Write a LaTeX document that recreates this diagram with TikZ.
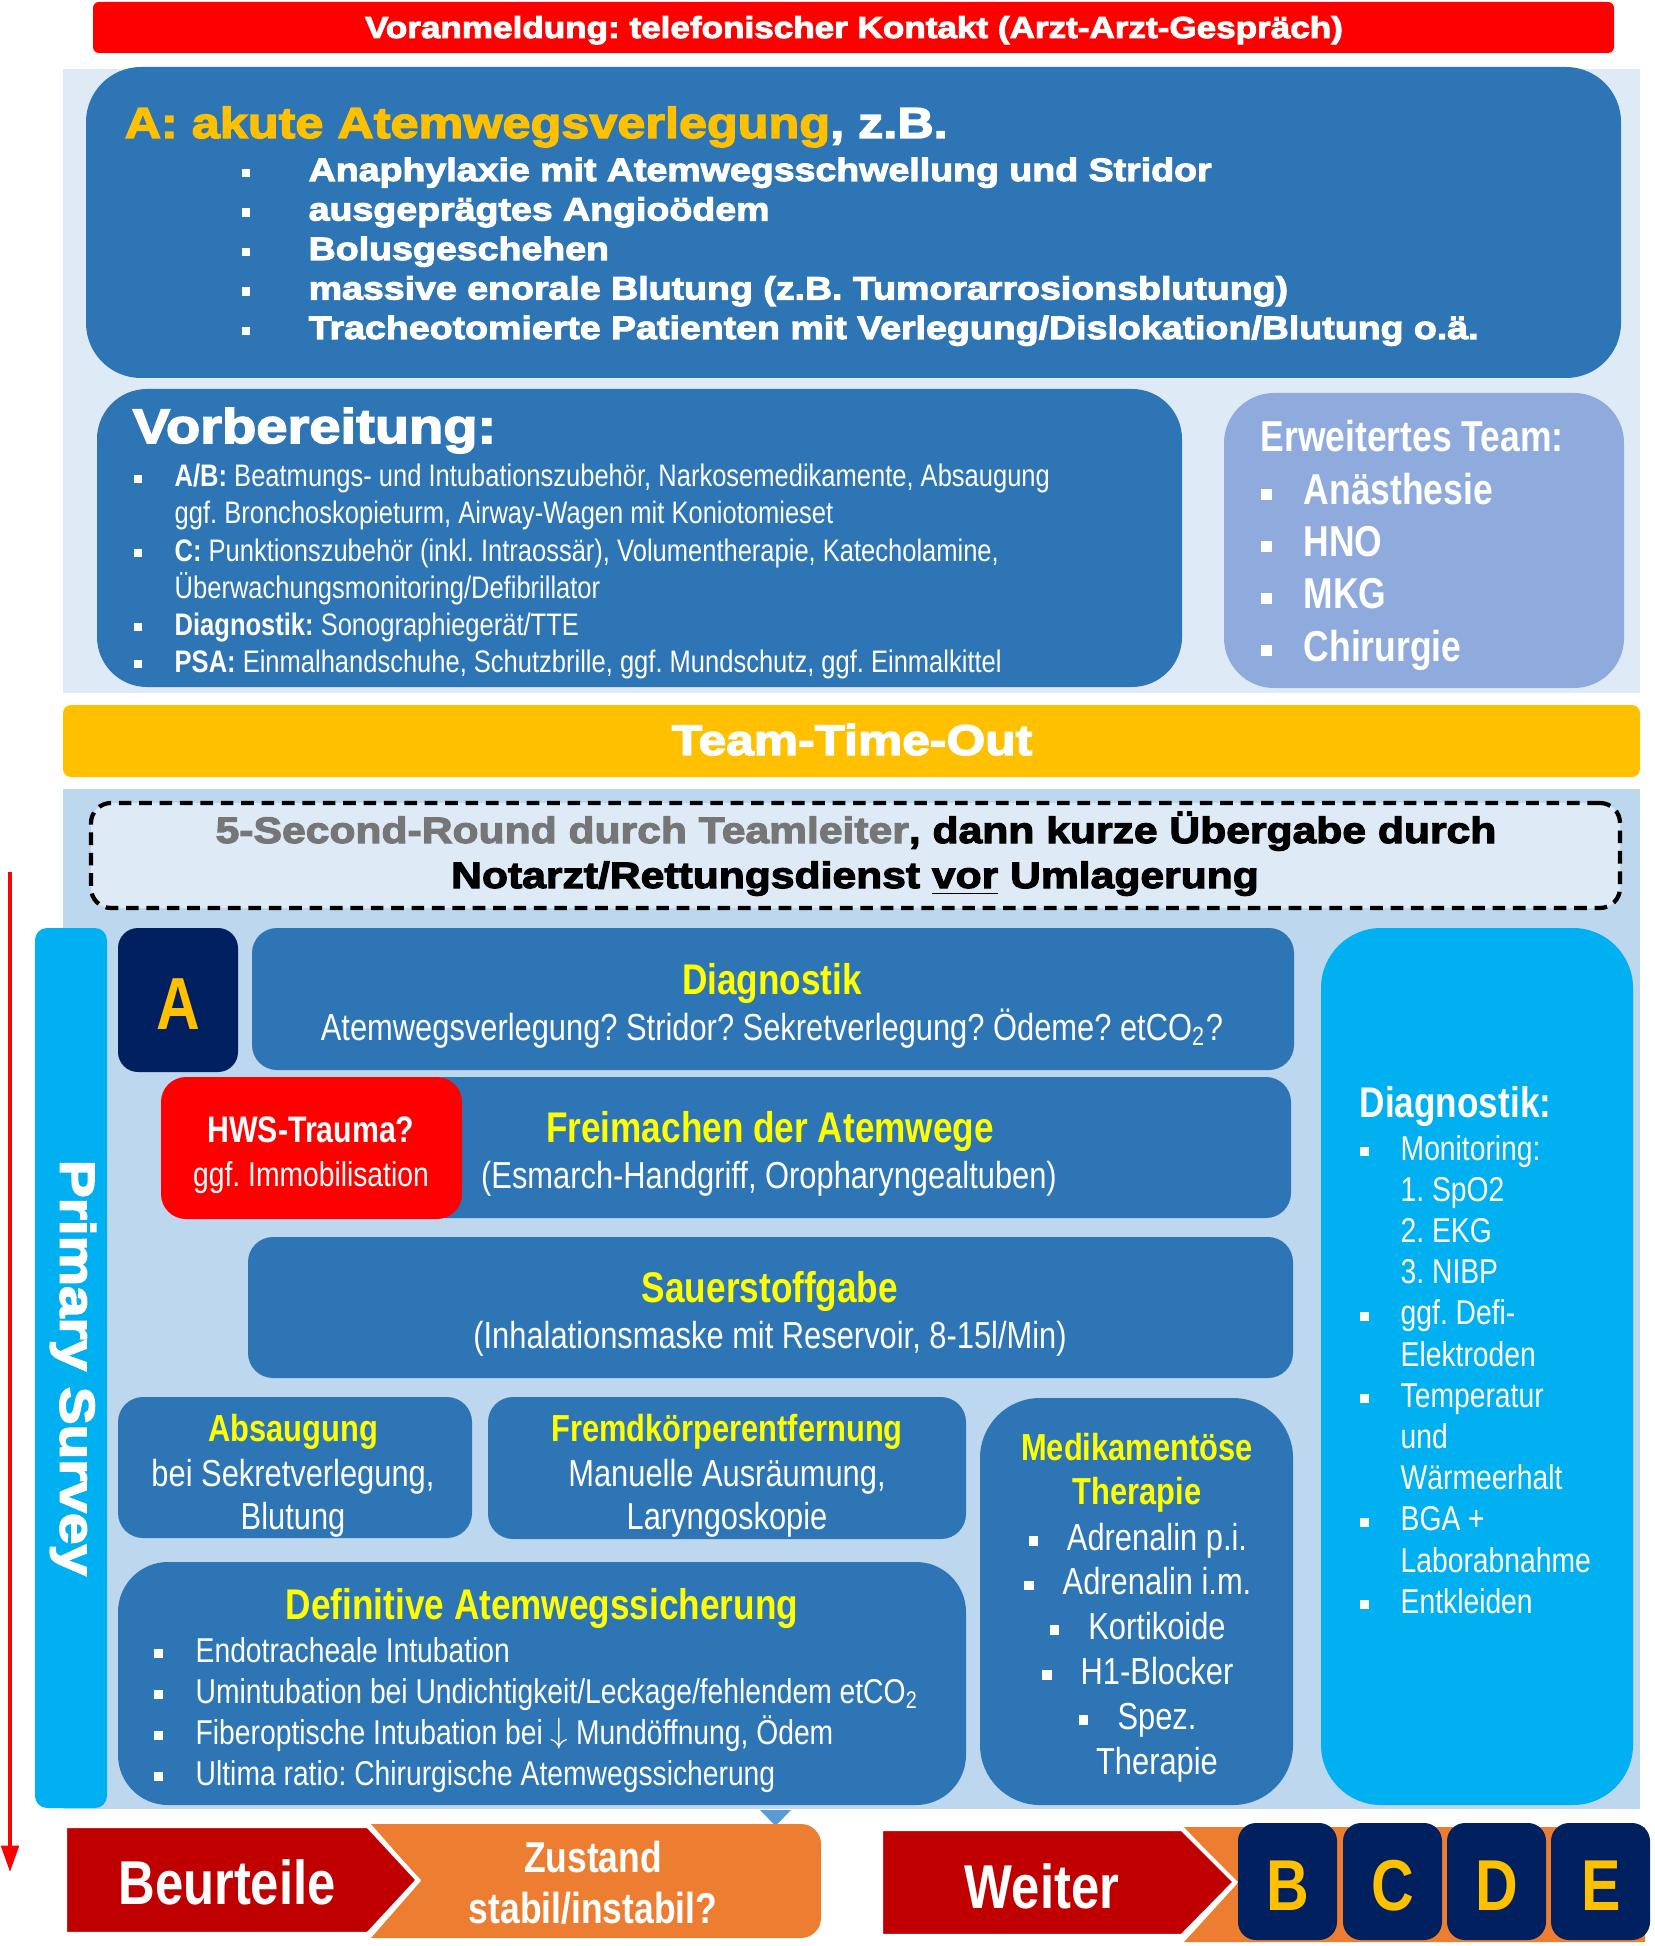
\documentclass[tikz,border=0pt]{standalone}
\usepackage{fontspec}
\setmainfont{Liberation Sans}
\newfontfamily\heavyfont[FakeBold=3.2,FakeStretch=1.16]{Liberation Sans Bold}
\newfontfamily\narrowfont[FakeStretch=0.82]{Liberation Sans}
\usetikzlibrary{arrows.meta,positioning,fit}
\definecolor{alarmred}{RGB}{255,0,0}
\definecolor{paleblue}{RGB}{222,235,247}
\definecolor{lightblue}{RGB}{189,215,238}
\definecolor{boxblue}{RGB}{46,117,182}
\definecolor{teamblue}{RGB}{143,170,220}
\definecolor{gold}{RGB}{255,192,0}
\definecolor{cyanbox}{RGB}{0,176,240}
\definecolor{navy}{RGB}{0,32,96}
\definecolor{darkred}{RGB}{192,0,0}
\definecolor{orangebox}{RGB}{237,125,49}
\definecolor{midblue}{RGB}{91,155,213}
\definecolor{titleyellow}{RGB}{255,255,0}
\definecolor{textgrey}{RGB}{118,118,118}
\newcommand\fsz[1]{\fontsize{#1}{#1}\selectfont}
\newcommand\blt{\rule[0.12em]{0.24em}{0.26em}}
\newcommand\bitem[1]{\llap{\blt\hspace{#1}}}
\frenchspacing

\begin{document}
\begin{tikzpicture}[x=0.01cm,y=-0.01cm,
  bluebox/.style={fill=boxblue,inner sep=0pt,rounded corners=0.25cm},
  heavy/.style={font=\heavyfont\fsz{#1},text=white,inner sep=0pt},
  narrow/.style={font=\narrowfont\fsz{#1},text=white,inner sep=0pt},
  narrowb/.style={font=\narrowfont\bfseries\fsz{#1},text=white,inner sep=0pt},
  titel/.style={narrowb=#1,text=titleyellow,anchor=base}]
\useasboundingbox (0,0) rectangle (1654,1946);

% Voranmeldung
\node[fill=alarmred,rounded corners=0.06cm,inner sep=0pt,fit={(93,2)(1614,53)}] (anmeldung) {};
\node[heavy=8.6,anchor=base] (anmeldungtxt) at (854,38) {Voranmeldung: telefonischer Kontakt (Arzt-Arzt-Gespräch)};

% oberer Bereich
\node[fill=paleblue,inner sep=0pt,fit={(63,69)(1640,693)}] (oben) {};
\node[bluebox,rounded corners=0.55cm,fit={(86,67)(1621,378)}] (akut) {};
\node[heavy=12.35,anchor=base west] (akuttitel) at (124,138) {\textcolor{gold}{A: akute Atemwegsverlegung}, z.B.};
\foreach \txt [count=\i] in {{Anaphylaxie mit Atemwegsschwellung und Stridor},{ausgeprägtes Angioödem},{Bolusgeschehen},
    {massive enorale Blutung (z.B. Tumorarrosionsblutung)},{Tracheotomierte Patienten mit Verlegung/Dislokation/Blutung o.ä.}}
  \node[heavy=9.2,anchor=base west] (akut\i) at (308,{181+39.5*(\i-1)}) {\bitem{16.8pt}\txt};

\node[bluebox,rounded corners=0.5cm,fit={(97,389)(1182,687)}] (vorb) {};
\node[heavy=13.75,anchor=base west] (vorbtitel) at (132,443) {Vorbereitung:};
\node[narrow=8.85,anchor=base west] (vorb1) at (174,487) {\bitem{9.4pt}\textbf{A/B:} Beatmungs- und Intubationszubehör, Narkosemedikamente, Absaugung};
\node[narrow=8.85,anchor=base west] (vorb2) at (174,524) {ggf. Bronchoskopieturm, Airway-Wagen mit Koniotomieset};
\node[narrow=8.85,anchor=base west] (vorb3) at (174,561) {\bitem{9.4pt}\textbf{C:} Punktionszubehör (inkl. Intraossär), Volumentherapie, Katecholamine,};
\node[narrow=8.85,anchor=base west] (vorb4) at (174,598) {Überwachungsmonitoring/Defibrillator};
\node[narrow=8.85,anchor=base west] (vorb5) at (174,635) {\bitem{9.4pt}\textbf{Diagnostik:} Sonographiegerät/TTE};
\node[narrow=8.85,anchor=base west] (vorb6) at (174,672) {\bitem{9.4pt}\textbf{PSA:} Einmalhandschuhe, Schutzbrille, ggf. Mundschutz, ggf. Einmalkittel};

\node[fill=teamblue,inner sep=0pt,rounded corners=0.5cm,fit={(1224,393)(1624,688)}] (team) {};
\node[narrowb=12.3,anchor=base west] (teamtitel) at (1260,452) {Erweitertes Team:};
\foreach \txt [count=\i] in {Anästhesie,HNO,MKG,Chirurgie}
  \node[narrowb=12.3,anchor=base west] (team\i) at (1303,{505+52*(\i-1)}) {\bitem{9.1pt}\txt};

% Team-Time-Out
\node[fill=gold,rounded corners=0.08cm,inner sep=0pt,fit={(63,705)(1640,777)}] (timeout) {};
\node[heavy=12.2,anchor=base] (timeouttxt) at (852,755) {Team-Time-Out};

% unterer Bereich
\node[fill=lightblue,inner sep=0pt,fit={(63,789)(1640,1809)}] (unten) {};
\node[fill=paleblue,draw=black,line width=1.2pt,dash pattern=on 3.6pt off 2.2pt,rounded corners=0.2cm,inner sep=0pt,fit={(91,803)(1620,908)}] (runde) {};
\node[heavy=10.45,anchor=base,text=black] (runde1) at (856,843) {\textcolor{textgrey}{5-Second-Round durch Teamleiter}, dann kurze Übergabe durch};
\node[heavy=10.45,anchor=base,text=black] (runde2) at (855,888) {Notarzt/Rettungsdienst \underline{vor} Umlagerung};

\node[fill=cyanbox,rounded corners=0.12cm,inner sep=0pt,fit={(35,928)(107,1808)}] (survey) {};
\node[heavy=13.9,rotate=-90] (surveytxt) at (73,1368) {Primary Survey};
\coordinate (pfeiloben) at (10,872);
\coordinate (pfeilunten) at (10,1872);
\draw[alarmred,line width=1pt,-{Triangle[length=7.5pt,width=5pt]}] (pfeiloben) -- (pfeilunten);

\node[fill=navy,rounded corners=0.2cm,inner sep=0pt,fit={(118,928)(238,1072)}] (abox) {};
\node[narrowb=21,text=gold,anchor=base] (abuchst) at (178,1029) {A};

\node[bluebox,fit={(252,928)(1294,1070)}] (diag) {};
\node[titel=12.2] (diagtitel) at (772,994) {Diagnostik};
\node[narrow=10.7,anchor=base] (diagtxt) at (772,1040) {Atemwegsverlegung? Stridor? Sekretverlegung? Ödeme? etCO\textsubscript{2}?};

\node[bluebox,fit={(420,1077)(1291,1218)}] (frei) {};
\node[fill=alarmred,rounded corners=0.25cm,inner sep=0pt,fit={(161,1077)(462,1219)}] (hws) {};
\node[narrowb=10.5,anchor=base] (hws1) at (311,1142) {HWS-Trauma?};
\node[narrow=9.8,anchor=base] (hws2) at (311,1186) {ggf. Immobilisation};
\node[titel=12.2] (freititel) at (770,1142) {Freimachen der Atemwege};
\node[narrow=10.7,anchor=base] (freitxt) at (769,1188) {(Esmarch-Handgriff, Oropharyngealtuben)};

\node[bluebox,fit={(248,1237)(1293,1378)}] (sauer) {};
\node[titel=12.2] (sauertitel) at (770,1302) {Sauerstoffgabe};
\node[narrow=10.7,anchor=base] (sauertxt) at (770,1348) {(Inhalationsmaske mit Reservoir, 8-15l/Min)};

\node[bluebox,fit={(118,1397)(472,1538)}] (saug) {};
\node[titel=10.7] (saugtitel) at (293,1441) {Absaugung};
\node[narrow=10.7,anchor=base] (saug1) at (293,1486) {bei Sekretverlegung,};
\node[narrow=10.7,anchor=base] (saug2) at (293,1529) {Blutung};

\node[bluebox,fit={(488,1397)(966,1539)}] (fremd) {};
\node[titel=10.7] (fremdtitel) at (727,1441) {Fremdkörperentfernung};
\node[narrow=10.7,anchor=base] (fremd1) at (727,1486) {Manuelle Ausräumung,};
\node[narrow=10.7,anchor=base] (fremd2) at (727,1529) {Laryngoskopie};

\node[bluebox,rounded corners=0.5cm,fit={(118,1562)(966,1805)}] (defin) {};
\node[titel=12.2] (defintitel) at (542,1619) {Definitive Atemwegssicherung};
\foreach \txt [count=\i] in {{Endotracheale Intubation},{Umintubation bei Undichtigkeit/Leckage/fehlendem etCO\textsubscript{2}},
    {Fiberoptische Intubation bei \raisebox{0.05em}{$\downarrow$} Mundöffnung, Ödem},{Ultima ratio: Chirurgische Atemwegssicherung}}
  \node[narrow=9.8,anchor=base west] (defin\i) at (195,{1662+41*(\i-1)}) {\bitem{9.4pt}\txt};

\node[bluebox,rounded corners=0.6cm,fit={(980,1398)(1293,1805)}] (medi) {};
\node[titel=10.7] (medititel1) at (1137,1460) {Medikamentöse};
\node[titel=10.7] (medititel2) at (1137,1504) {Therapie};
\foreach \txt [count=\i] in {Adrenalin p.i.,Adrenalin i.m.,Kortikoide,H1-Blocker,Spez.}
  \node[narrow=10.7,anchor=base] (medi\i) at (1157,{1550+44.8*(\i-1)}) {\bitem{8.3pt}\txt};
\node[narrow=10.7,anchor=base] (medi6) at (1157,1774) {Therapie};

\node[fill=cyanbox,rounded corners=0.6cm,inner sep=0pt,fit={(1321,928)(1633,1805)}] (check) {};
\node[narrowb=12.2,anchor=base west] (checktitel) at (1359,1117) {Diagnostik:};
\foreach \txt/\b [count=\i] in {Monitoring:/1,1. SpO2/0,2. EKG/0,3. NIBP/0,ggf. Defi-/1,Elektroden/0,
    Temperatur/1,und/0,Wärmeerhalt/0,BGA +/1,Laborabnahme/0,Entkleiden/1}
  \node[narrow=9.8,anchor=base west] (check\i) at (1400,{1160+41.2*(\i-1)}) {\ifnum\b=1 \bitem{9.1pt}\fi\txt};

% Beurteilung
\fill[midblue] (760,1810) -- (791,1810) -- (775.5,1826) -- cycle;
\fill[orangebox,rounded corners=0.2cm] (450,1824) rectangle (821,1938);
\fill[orangebox] (371,1824) -- (470,1824) -- (470,1938) -- (371,1938) -- (421,1881) -- cycle;
\filldraw[fill=darkred,draw=white,line width=1.2pt] (65,1826) -- (368,1826) -- (418,1880) -- (368,1934) -- (65,1934) -- cycle;
\node[narrowb=17.6,anchor=base] (beurteile) at (227,1904) {Beurteile};
\node[narrowb=12.3,anchor=base] (zustand1) at (593,1872) {Zustand};
\node[narrowb=12.3,anchor=base] (zustand2) at (593,1923) {stabil/instabil?};

\fill[orangebox] (1184,1827) -- (1645,1827) -- (1645,1942) -- (1184,1942) -- (1237,1884) -- cycle;
\filldraw[fill=darkred,draw=white,line width=1.2pt] (881,1829) -- (1182,1829) -- (1235,1882) -- (1182,1936) -- (881,1936) -- cycle;
\node[narrowb=17.6,anchor=base] (weiter) at (1042,1908) {Weiter};
\foreach \l/\xa in {B/1238,C/1343,D/1447,E/1551}{
  \node[fill=navy,rounded corners=0.18cm,inner sep=0pt,fit={(\xa,1823)(\xa+99,1940)}] (box\l) {};
  \node[narrowb=20.5,text=gold,anchor=base] (buchst\l) at (\xa+50,1910) {\l};
}
\end{tikzpicture}
\end{document}
